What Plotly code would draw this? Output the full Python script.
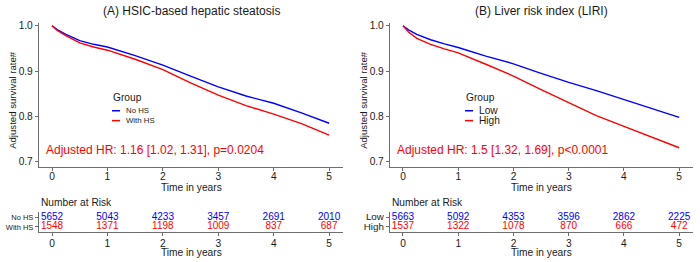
import plotly.graph_objects as go

W, H = 700, 262

# ---- data ----
years = [0, 0.1, 0.25, 0.5, 0.75, 1.0, 1.5, 2.0, 2.5, 3.0, 3.5, 4.0, 4.5, 5.0]
a_no_hs = [1.0, 0.991, 0.981, 0.967, 0.959, 0.953, 0.934, 0.913, 0.889, 0.865, 0.845, 0.829, 0.808, 0.785]
a_with_hs = [1.0, 0.989, 0.978, 0.962, 0.953, 0.946, 0.926, 0.903, 0.874, 0.847, 0.824, 0.805, 0.784, 0.759]
b_low = [1.0, 0.991, 0.981, 0.969, 0.960, 0.952, 0.933, 0.916, 0.895, 0.875, 0.857, 0.837, 0.818, 0.798]
b_high = [1.0, 0.986, 0.972, 0.959, 0.949, 0.940, 0.915, 0.889, 0.859, 0.830, 0.802, 0.778, 0.755, 0.731]

risk_years = [0, 1, 2, 3, 4, 5]
risk_a_no = [5652, 5043, 4233, 3457, 2691, 2010]
risk_a_with = [1548, 1371, 1198, 1009, 837, 687]
risk_b_low = [5663, 5092, 4353, 3596, 2862, 2225]
risk_b_high = [1537, 1322, 1078, 870, 666, 472]

groups_a = ["No HS", "With HS"]
groups_b = ["Low", "High"]
titles = ["(A) HSIC-based hepatic steatosis", "(B) Liver risk index (LIRI)"]
hr_texts = ["Adjusted HR: 1.16 [1.02, 1.31], p=0.0204", "Adjusted HR: 1.5 [1.32, 1.69], p<0.0001"]
yticks = [0.7, 0.8, 0.9, 1.0]

BLUE = "#0000FF"
RED = "#FF0000"
FONT = "Liberation Sans, Arial, sans-serif"
AXC = "#6e6e6e"
TXT = "#1a1a1a"

def px(x):
    return x / W

def py(y):
    return 1 - y / H

panels = [
    dict(x0=39, x1=343, groups=groups_a, curves=(a_no_hs, a_with_hs), risk=(risk_a_no, risk_a_with),
         gfs=7.5, lfs=7.8),
    dict(x0=390, x1=693, groups=groups_b, curves=(b_low, b_high), risk=(risk_b_low, risk_b_high),
         gfs=9.8, lfs=10.2),
]

fig = go.Figure()
layout = dict(width=W, height=H, margin=dict(l=0, r=0, t=0, b=0), autosize=False,
              paper_bgcolor="white", plot_bgcolor="white", showlegend=False,
              font=dict(family=FONT, color=TXT))
annotations = []
shapes = []

main_top, main_bot = 21, 166.7
tab_top, tab_bot = 212, 233
xr = [-0.235, 5.25]
TICKF = 10.2

for i, p in enumerate(panels):
    k = i * 2
    xm = "x" if k == 0 else f"x{k+1}"
    ym = "y" if k == 0 else f"y{k+1}"
    xt = f"x{k+2}"
    yt = f"y{k+2}"
    dom = [px(p["x0"]), px(p["x1"])]
    axis_common = dict(showline=True, linecolor=AXC, linewidth=1.3, ticks="outside", ticklen=3,
                       tickcolor=AXC, showgrid=False, zeroline=False, mirror=False)
    layout["xaxis" if k == 0 else f"xaxis{k+1}"] = dict(
        domain=dom, range=xr, anchor=ym, tickvals=risk_years, tickfont=dict(size=TICKF, color=TXT),
        ticklabelstandoff=-3, **axis_common)
    layout["yaxis" if k == 0 else f"yaxis{k+1}"] = dict(
        domain=[py(main_bot), py(main_top)], range=[0.689, 1.0065], anchor=xm, tickvals=yticks,
        tickformat=".1f", tickfont=dict(size=TICKF, color=TXT), **axis_common)
    layout[f"xaxis{k+2}"] = dict(
        domain=dom, range=xr, anchor=yt, tickvals=risk_years, tickfont=dict(size=TICKF, color=TXT),
        ticklabelstandoff=-2, **axis_common)
    layout[f"yaxis{k+2}"] = dict(
        domain=[py(tab_bot), py(tab_top)], range=[-0.55, 1.55], anchor=xt, tickvals=[1, 0],
        ticktext=p["groups"], tickfont=dict(size=p["gfs"], color=TXT), **axis_common)

    for vals, col, name in zip(p["curves"], (BLUE, RED), p["groups"]):
        fig.add_trace(go.Scatter(x=years, y=vals, mode="lines", line=dict(color=col, width=1.4),
                                 name=name, xaxis=xm, yaxis=ym))
    for vals, col, row in zip(p["risk"], (BLUE, RED), (1, 0)):
        fig.add_trace(go.Scatter(x=risk_years, y=[row] * len(vals), mode="text",
                                 text=[str(v) for v in vals], textposition="middle center",
                                 textfont=dict(color=col, size=10, family=FONT),
                                 xaxis=xt, yaxis=yt, hoverinfo="skip"))

    cx = (p["x0"] + p["x1"]) / 2
    annotations += [
        dict(x=px(cx), y=py(9), xref="paper", yref="paper", text=titles[i], showarrow=False,
             font=dict(size=12, color=TXT), xanchor="center", yanchor="middle"),
        dict(x=px(cx), y=py(188), xref="paper", yref="paper", text="Time in years", showarrow=False,
             font=dict(size=10.2, color=TXT), xanchor="center", yanchor="middle"),
        dict(x=px(cx), y=py(253.5), xref="paper", yref="paper", text="Time in years", showarrow=False,
             font=dict(size=10.2, color=TXT), xanchor="center", yanchor="middle"),
        dict(x=px(p["x0"]), y=py(203), xref="paper", yref="paper", text="Number at Risk", showarrow=False,
             font=dict(size=10.2, color=TXT), xanchor="left", yanchor="middle"),
        dict(x=px(p["x0"] - 26), y=py(99), xref="paper", yref="paper", text="Adjusted survival rate#",
             showarrow=False, textangle=-90, font=dict(size=9.6, color=TXT), xanchor="center",
             yanchor="middle"),
        dict(x=px(p["x0"] + 5), y=py(150), xref="paper", yref="paper", text=hr_texts[i], showarrow=False,
             font=dict(size=12, color=RED), xanchor="left", yanchor="middle"),
    ]
    # legend (Group)
    lx = 112 if i == 0 else 465
    annotations.append(dict(x=px(lx - 1), y=py(97), xref="paper", yref="paper", text="Group",
                            showarrow=False, font=dict(size=10.2, color=TXT), xanchor="left",
                            yanchor="middle"))
    for j, (col, name) in enumerate(zip((BLUE, RED), p["groups"])):
        yy = 110 + 10 * j
        shapes.append(dict(type="line", xref="paper", yref="paper", x0=px(lx), x1=px(lx + 8),
                           y0=py(yy), y1=py(yy), line=dict(color=col, width=1.5)))
        annotations.append(dict(x=px(lx + 12), y=py(yy), xref="paper", yref="paper", text=name,
                                showarrow=False, font=dict(size=p["lfs"], color=TXT),
                                xanchor="left", yanchor="middle"))

layout["annotations"] = annotations
layout["shapes"] = shapes
fig.update_layout(**layout)
fig.write_html("out.html", config={"displayModeBar": False},
               post_script="document.body.style.margin='0';document.body.style.padding='0';")
